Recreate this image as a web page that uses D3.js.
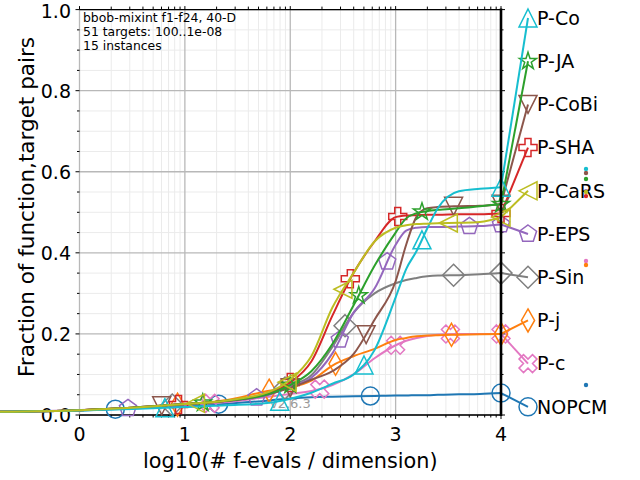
<!DOCTYPE html>
<html><head><meta charset="utf-8">
<script src="https://cdn.jsdelivr.net/npm/d3@7"></script>
<style>body{margin:0;background:#fff}svg{display:block}text{font-family:"DejaVu Sans",sans-serif}</style>
</head><body>
<svg id="c" width="640" height="480"></svg>
<script>
// ---- data ----
const algNames = ["P-Co","P-JA","P-CoBi","P-SHA","P-CaRS","P-EPS","P-Sin","P-j","P-c","NOPCM"];
const logEvals = [-0.8, 0, 0.5, 1, 1.4, 1.8, 2.0, 2.2, 2.4, 2.6, 2.8, 3.0, 3.1, 3.2, 3.3, 3.4, 3.6, 3.8, 4.0];
const pCo   = [0.008,0.011,0.015,0.020,0.024,0.030,0.040,0.055,0.077,0.100,0.160,0.290,0.360,0.405,0.460,0.510,0.552,0.558,0.562];
const pJA   = [0.008,0.012,0.018,0.027,0.035,0.052,0.074,0.108,0.175,0.270,0.368,0.450,0.485,0.498,0.503,0.506,0.510,0.515,0.520];
const pCoBi = [0.008,0.012,0.018,0.027,0.035,0.052,0.067,0.087,0.108,0.150,0.235,0.330,0.420,0.490,0.510,0.513,0.515,0.516,0.520];
const pSHA  = [0.008,0.012,0.018,0.027,0.035,0.054,0.080,0.132,0.245,0.350,0.428,0.488,0.492,0.493,0.494,0.494,0.495,0.495,0.497];
const pCaRS = [0.008,0.012,0.018,0.027,0.036,0.057,0.087,0.145,0.265,0.350,0.428,0.462,0.468,0.471,0.472,0.473,0.474,0.476,0.488];
const pEPS  = [0.008,0.012,0.017,0.026,0.034,0.050,0.070,0.092,0.152,0.252,0.312,0.420,0.455,0.462,0.464,0.464,0.465,0.466,0.470];
const pSin  = [0.008,0.012,0.018,0.027,0.035,0.052,0.072,0.098,0.168,0.252,0.300,0.325,0.333,0.338,0.342,0.344,0.345,0.347,0.350];
const pj    = [0.008,0.012,0.018,0.027,0.037,0.060,0.068,0.085,0.122,0.145,0.163,0.185,0.190,0.194,0.196,0.197,0.198,0.199,0.200];
const pc    = [0.008,0.012,0.017,0.025,0.032,0.045,0.052,0.059,0.074,0.100,0.140,0.172,0.183,0.190,0.195,0.198,0.200,0.200,0.200];
const nopcm = [0.008,0.011,0.016,0.022,0.028,0.036,0.041,0.044,0.045,0.046,0.047,0.048,0.048,0.049,0.049,0.050,0.051,0.052,0.054];
const seriesValues = [pCo,pJA,pCoBi,pSHA,pCaRS,pEPS,pSin,pj,pc,nopcm];
// where the markers sit along each curve (log10 of evals/dim)
const markerAt = [
  [0.81,1.9,2.7,3.25,4.0],
  [1.17,2.0,2.65,3.25,4.0],
  [0.78,2.0,2.72,3.55,4.0],
  [0.94,2.0,2.57,3.02,4.0],
  [1.1,1.97,2.5,3.5,4.0],
  [0.46,1.68,2.47,2.92,3.7,4.0],
  [0.88,1.95,2.52,3.55,4.0],
  [0.93,1.8,2.43,3.53,4.0],
  [1.24,2.28,3.0,3.52,4.0],
  [0.34,1.32,2.76,4.0]
];
// small side dots (fraction values)
const dotValues = [0.607,0.582,0.597,0.540,0.550,0.552,null,0.370,0.380,0.074];
const xTickLabels = ["0","1","2","3","4"];
const yTickLabels = ["0.0","0.2","0.4","0.6","0.8","1.0"];
const infoLines = ["bbob-mixint f1-f24, 40-D","51 targets: 100..1e-08","15 instances"];

// ---- styles ----
const colors = ["#17becf","#2ca02c","#8c564b","#d62728","#bcbd22","#9467bd","#7f7f7f","#ff7f0e","#e377c2","#1f77b4"];
const markers = ["^","*","v","P","<","p","D","d","X","o"];

const svg = d3.select("#c");
const x = d3.scaleLinear().domain([0,4]).range([79.5,501]);
const y = d3.scaleLinear().domain([0,1]).range([415,9.6]);
const X0 = x(0), X1 = x(4), Y0 = y(0), Y1 = y(1);

// grid
const minorX = [];
for (let d=0; d<4; d++) for (let k=2;k<=9;k++) minorX.push(d+Math.log10(k));
const g = svg.append("g");
g.selectAll(".mgx").data(minorX).enter().append("line")
  .attr("x1",d=>x(d)).attr("x2",d=>x(d)).attr("y1",Y0).attr("y2",Y1)
  .attr("stroke","#ebebeb").attr("stroke-width",1);
const minorY = d3.range(0,1.0001,0.05).filter(v=>Math.abs(v*5-Math.round(v*5))>1e-6);
g.selectAll(".mgy").data(minorY).enter().append("line")
  .attr("x1",X0).attr("x2",X1).attr("y1",d=>y(d)).attr("y2",d=>y(d))
  .attr("stroke","#ebebeb").attr("stroke-width",1);
g.selectAll(".gx").data(d3.range(0,5)).enter().append("line")
  .attr("x1",d=>x(d)).attr("x2",d=>x(d)).attr("y1",Y0).attr("y2",Y1)
  .attr("stroke","#b8b8b8").attr("stroke-width",1.3);
g.selectAll(".gy").data(d3.range(0,1.0001,0.2)).enter().append("line")
  .attr("x1",X0).attr("x2",X1).attr("y1",d=>y(d)).attr("y2",d=>y(d))
  .attr("stroke","#b8b8b8").attr("stroke-width",1.3);

// ticks
const tk = svg.append("g").attr("stroke","#000").attr("stroke-width",1);
d3.range(0,5).forEach(v=>{
  tk.append("line").attr("x1",x(v)).attr("x2",x(v)).attr("y1",Y0).attr("y2",Y0+4);
  tk.append("line").attr("x1",x(v)).attr("x2",x(v)).attr("y1",Y1).attr("y2",Y1-3.5);
});
minorX.forEach(v=>{
  tk.append("line").attr("x1",x(v)).attr("x2",x(v)).attr("y1",Y0).attr("y2",Y0+2.5);
  tk.append("line").attr("x1",x(v)).attr("x2",x(v)).attr("y1",Y1).attr("y2",Y1-3);
});
d3.range(0,1.0001,0.05).forEach(v=>{
  const major = Math.abs(v*5-Math.round(v*5))<1e-6;
  tk.append("line").attr("x1",X0).attr("x2",X0-(major?4:2.5)).attr("y1",y(v)).attr("y2",y(v));
  tk.append("line").attr("x1",X1).attr("x2",X1+(major?4:2.5)).attr("y1",y(v)).attr("y2",y(v));
});

// spines
svg.append("line").attr("x1",X0).attr("x2",X1).attr("y1",Y0).attr("y2",Y0).attr("stroke","#000").attr("stroke-width",1.3);
svg.append("line").attr("x1",X0).attr("x2",X1).attr("y1",Y1).attr("y2",Y1).attr("stroke","#000").attr("stroke-width",1.3);

// tick labels
svg.selectAll(".xl").data(xTickLabels).enter().append("text")
  .attr("x",(d,i)=>x(i)).attr("y",441).attr("text-anchor","middle").attr("font-size",19).text(d=>d);
svg.selectAll(".yl").data(yTickLabels).enter().append("text")
  .attr("x",71).attr("y",(d,i)=>Math.max(y(i*0.2),11)).attr("dy","0.36em").attr("text-anchor","end").attr("font-size",19).text(d=>d);

// axis titles
svg.append("text").attr("x",(X0+X1)/2).attr("y",468).attr("text-anchor","middle").attr("font-size",20.8)
  .text("log10(# f-evals / dimension)");
svg.append("text").attr("transform",`translate(34,207) rotate(-90)`).attr("text-anchor","middle").attr("font-size",21.5)
  .text("Fraction of function,target pairs");

// info text
svg.selectAll(".info").data(infoLines).enter().append("text")
  .attr("x",83).attr("y",(d,i)=>22+i*14).attr("font-size",12.4).text(d=>d);

// version text
svg.append("text").attr("x",270).attr("y",408).attr("font-size",13).attr("fill","#9a9a9a").text("v2.6.3");

// marker shapes
function markerPath(t){
  const r=9;
  switch(t){
    case "^": return `M0,${-r}L${r},${r}L${-r},${r}Z`;
    case "v": return `M0,${r}L${r},${-r}L${-r},${-r}Z`;
    case "<": return `M${-r},0L${r},${-r}L${r},${r}Z`;
    case "o": return `M${r},0A${r},${r} 0 1,1 ${-r},0A${r},${r} 0 1,1 ${r},0Z`;
    case "*": { let p=[]; for(let i=0;i<10;i++){const a=-Math.PI/2+i*Math.PI/5; const rr=i%2?r*0.382:r; p.push([rr*Math.cos(a),rr*Math.sin(a)]);} return "M"+p.map(q=>q.join(",")).join("L")+"Z"; }
    case "p": { let p=[]; for(let i=0;i<5;i++){const a=-Math.PI/2+i*2*Math.PI/5; p.push([r*Math.cos(a),r*Math.sin(a)]);} return "M"+p.map(q=>q.join(",")).join("L")+"Z"; }
    case "P": { const v=[[-1,-3],[1,-3],[1,-1],[3,-1],[3,1],[1,1],[1,3],[-1,3],[-1,1],[-3,1],[-3,-1],[-1,-1]]; return "M"+v.map(q=>[q[0]*r/3,q[1]*r/3].join(",")).join("L")+"Z"; }
    case "X": { const v=[[-1,-2],[0,-1],[1,-2],[2,-1],[1,0],[2,1],[1,2],[0,1],[-1,2],[-2,1],[-1,0],[-2,-1]]; return "M"+v.map(q=>[q[0]*r/2,q[1]*r/2].join(",")).join("L")+"Z"; }
    case "D": return `M0,-11L11,0L0,11L-11,0Z`;
    case "d": return `M0,-11.5L6.6,0L0,11.5L-6.6,0Z`;
  }
}

const line = d3.line().x(d=>x(d[0])).y(d=>y(d[1])).curve(d3.curveMonotoneX);
const legX = x(4)+27, legTop = 18, legStep = 43.2;
const drawOrder = [9,8,7,6,5,3,2,1,0,4];
const layer = svg.append("g");
drawOrder.forEach(i=>{
  const vals = seriesValues[i];
  const pts = logEvals.map((lx,k)=>[lx,vals[k]]);
  const gi = layer.append("g");
  const path = gi.append("path").datum(pts).attr("d",line).attr("fill","none")
    .attr("stroke",colors[i]).attr("stroke-width",2);
  const node = path.node(), L = node.getTotalLength();
  const ly = legTop + i*legStep;
  gi.append("line").attr("x1",x(4)).attr("y1",y(vals[vals.length-1])).attr("x2",legX).attr("y2",ly)
    .attr("stroke",colors[i]).attr("stroke-width",2);
  markerAt[i].forEach(mx=>{
    const px = x(mx); let lo=0, hi=L;
    for(let k=0;k<40;k++){const mid=(lo+hi)/2; if(node.getPointAtLength(mid).x<px) lo=mid; else hi=mid;}
    const p = node.getPointAtLength(hi);
    gi.append("path").attr("d",markerPath(markers[i])).attr("transform",`translate(${p.x},${p.y})`)
      .attr("fill","none").attr("stroke",colors[i]).attr("stroke-width",1.5);
  });
  gi.append("path").attr("d",markerPath(markers[i])).attr("transform",`translate(${legX},${ly})`)
    .attr("fill","none").attr("stroke",colors[i]).attr("stroke-width",1.5);
  svg.append("text").attr("x",537).attr("y",ly).attr("dy","0.36em").attr("font-size",19).text(algNames[i]);
  if (dotValues[i]!==null) svg.append("circle").attr("cx",586).attr("cy",y(dotValues[i])).attr("r",2.2).attr("fill",colors[i]);
});

// right thick spine
svg.append("line").attr("x1",X1).attr("x2",X1).attr("y1",Y0+1).attr("y2",Y1-1).attr("stroke","#000").attr("stroke-width",2.6);
</script>
</body></html>
